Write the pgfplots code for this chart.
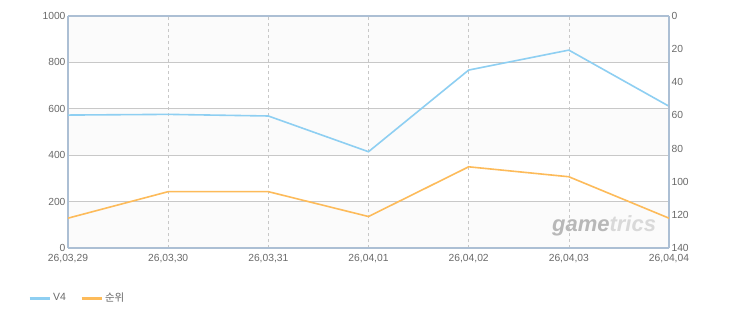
\documentclass[border=0pt]{standalone}
\usepackage{pgfplots}
\pgfplotsset{compat=1.18}
\usepackage{fontspec}
\setmainfont{Liberation Sans}
\newfontfamily\kr{Noto Sans CJK KR}
\definecolor{bluev}{RGB}{142,207,242}
\definecolor{orng}{RGB}{253,187,90}
\definecolor{framec}{RGB}{172,191,212}
\definecolor{gridc}{RGB}{200,200,200}
\definecolor{txt}{RGB}{105,105,105}
\definecolor{bandc}{RGB}{251,251,251}
\begin{document}
\begin{tikzpicture}[x=1pt,y=1pt]
\path (0,0) rectangle (730,325);
\begin{axis}[
  set layers,
  at={(68pt,77pt)}, anchor=south west, scale only axis,
  width=601pt, height=232pt,
  xmin=0, xmax=6, ymin=0, ymax=1000,
  xtick={0,...,6},
  xticklabels={{26,03,29},{26,03,30},{26,03,31},{26,04,01},{26,04,02},{26,04,03},{26,04,04}},
  ytick={0,200,...,1000},
  axis y line*=left, axis x line*=bottom,
  axis line style={framec, line width=1.6pt},
  major tick length=0pt,
  xmajorgrids, ymajorgrids,
  major x grid style={gridc, dashed, line width=0.6pt},
  major y grid style={gridc, line width=0.8pt},
  axis background/.style={fill=bandc},
  tick label style={font=\fontsize{10.3}{12}\selectfont, text=txt},
  /pgf/number format/assume math mode=true,
  /pgf/number format/1000 sep={},
  xticklabel style={yshift=-3pt},
  yticklabel style={xshift=1pt},
]
\begin{pgfonlayer}{axis background}
\fill[white] (axis cs:0,600) rectangle (axis cs:6,800);
\fill[white] (axis cs:0,200) rectangle (axis cs:6,400);
\end{pgfonlayer}
\addplot[bluev, line width=1.6pt] coordinates {(0,573) (1,576) (2,569) (3,415) (4,767) (5,853) (6,611)};
\node[anchor=center, font=\fontsize{22}{24}\selectfont\bfseries\itshape, text=black!28] at (rel axis cs:0.892,0.095) {game\textcolor{black!15}{trics}};
\end{axis}
\begin{axis}[
  at={(68pt,77pt)}, anchor=south west, scale only axis,
  width=601pt, height=232pt,
  xmin=0, xmax=6, ymin=0, ymax=140,
  y dir=reverse,
  axis x line*=top, axis y line*=right,
  xtick=\empty,
  ytick={0,20,...,140},
  axis line style={framec, line width=1.6pt},
  major tick length=0pt,
  tick label style={font=\fontsize{10.3}{12}\selectfont, text=txt},
  /pgf/number format/assume math mode=true,
  yticklabel style={xshift=-1pt},
  legend style={at={(-0.0715,-0.2155)}, anchor=west, draw=none, fill=none,
    font=\fontsize{10.5}{12}\selectfont, text=txt,
    /tikz/every even column/.append style={column sep=12pt}},
  legend columns=2,
  legend cell align=left,
  legend image code/.code={\draw[#1] (0pt,0pt) -- (20pt,0pt);},
]
\addlegendimage{bluev, line width=3pt}
\addlegendentry{V4}
\addlegendimage{orng, line width=3pt}
\addlegendentry{\kr 순위}
\addplot[orng, line width=1.6pt, forget plot] coordinates {(0,122) (1,106) (2,106) (3,121) (4,91) (5,97) (6,122)};
\end{axis}
\end{tikzpicture}
\end{document}
